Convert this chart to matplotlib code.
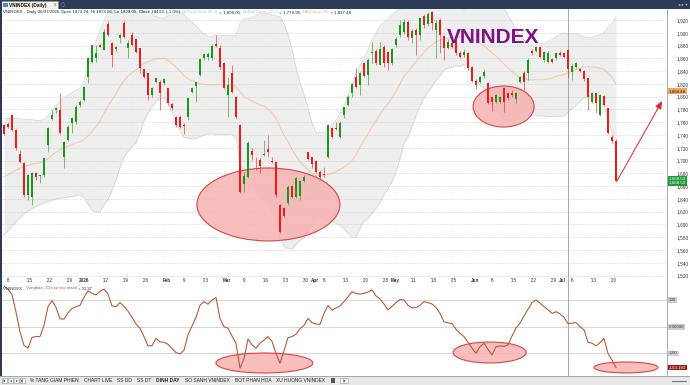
import numpy as np
import pandas as pd
import matplotlib
matplotlib.use('Agg')
import matplotlib.pyplot as plt
from matplotlib.patches import Ellipse, Rectangle

# --- data -------------------------------------------------------------
# HOSE trading days shown on the chart
holidays = ['2026-01-01', '2026-02-16', '2026-02-17', '2026-02-18', '2026-02-19',
            '2026-02-20', '2026-04-27', '2026-04-30', '2026-05-01']
days = pd.bdate_range('2025-12-08', '2026-07-22')
days = days[~days.isin(pd.to_datetime(holidays))]

opens = [1755.7, 1757, 1771.3, 1747.9, 1710.3, 1695.7, 1646.2, 1643.6, 1681.1, 1675.8,
         1677.5, 1725, 1764.6, 1779, 1779.2, 1706, 1732.2, 1758.3, 1760.9, 1787,
         1794.8, 1831.3, 1854.8, 1860, 1880.9, 1873, 1913.7, 1883.5, 1874, 1891.3,
         1915, 1875.7, 1896.5, 1889.7, 1875.7, 1842.8, 1836.5, 1802.6, 1823, 1823.5,
         1820.9, 1813.1, 1788.6, 1767.7, 1768.7, 1755.7, 1767.7, 1807.8, 1816.7, 1833.9,
         1860, 1862, 1860, 1882.4, 1875.7, 1853.2, 1802.6, 1836.5, 1800, 1755.7,
         1663.4, 1674.9, 1715.5, 1696.8, 1700.9, 1708.2, 1718.6, 1699.9, 1697.3, 1630.5,
         1625.3, 1633.1, 1660.8, 1643.6, 1645.1, 1668.6, 1712.9, 1705.1, 1699.4, 1682.2,
         1678.5, 1706.1, 1751.5, 1751.5, 1737.4, 1771.3, 1787, 1805.2, 1831.3, 1818.3,
         1852.2, 1833.9, 1867.8, 1872, 1849.6, 1878.3, 1870.4, 1852.2, 1880.9, 1896.5,
         1902, 1917, 1891.3, 1905, 1897, 1927, 1914, 1932, 1904, 1920,
         1895, 1876, 1884, 1888.7, 1868.9, 1865.2, 1867.8, 1847, 1825.1, 1823.5,
         1832.4, 1821.9, 1799, 1792.2, 1792.2, 1813.1, 1805.2, 1805.2, 1795.8, 1823.5,
         1837.6, 1837.6, 1872, 1872, 1877.2, 1857.4, 1854.8, 1858.5, 1860, 1868.9,
         1867.8, 1873.24, 1839.2, 1847, 1842.8, 1840.7, 1828.7, 1792.2, 1805.2, 1771.3,
         1801, 1781.8, 1737, 1731]
highs = [1758, 1760, 1773, 1749, 1717, 1697, 1679, 1682, 1682.7, 1678,
         1705, 1752, 1779, 1784, 1805, 1731, 1755, 1768.7, 1787, 1794.5,
         1817, 1862.6, 1883, 1880.9, 1882, 1906, 1918, 1885, 1880, 1899,
         1919, 1888.7, 1901.7, 1891, 1876, 1844, 1837, 1815, 1831.3, 1826,
         1829, 1814, 1790, 1769, 1771.3, 1758.3, 1800, 1815.7, 1823.5, 1860,
         1869, 1870, 1882, 1896.5, 1880.9, 1854, 1831.3, 1849.6, 1801, 1757,
         1682.7, 1730, 1719.2, 1706.1, 1703.5, 1732.2, 1740, 1706.1, 1699, 1632,
         1627, 1661.8, 1662, 1674.9, 1670, 1677, 1714, 1706, 1701, 1685,
         1689.5, 1757, 1753, 1760.9, 1762, 1784.4, 1802, 1822, 1844.4, 1839,
         1854.8, 1860, 1886.1, 1874, 1886.1, 1880.9, 1872, 1876, 1893.9, 1920,
         1922, 1920, 1906, 1908, 1925, 1930, 1932, 1934, 1920, 1923,
         1897, 1890, 1888, 1890, 1872, 1874, 1870, 1848, 1827, 1833,
         1843, 1823, 1800, 1804, 1801, 1815, 1806, 1810.4, 1807, 1833,
         1840, 1860, 1875, 1880, 1879, 1872, 1871, 1860, 1870, 1871,
         1869, 1873.56, 1851, 1855, 1845, 1842, 1830, 1808, 1806, 1804,
         1802, 1783, 1740, 1733]
lows = [1740, 1751, 1746, 1716, 1696, 1643, 1638, 1630.5, 1669.6, 1665.5,
        1675, 1714, 1763, 1774, 1741, 1688, 1731, 1742.6, 1758, 1784,
        1793, 1820.9, 1853, 1854.8, 1877, 1873, 1895, 1847, 1872, 1883.5,
        1892, 1860, 1879, 1868, 1836.5, 1829, 1794.8, 1800, 1820.9, 1779.2,
        1819, 1787, 1779, 1753, 1750.5, 1741.6, 1763.5, 1805.2, 1792.2, 1832,
        1858, 1858, 1858, 1878, 1844, 1812, 1768.7, 1806, 1766, 1649,
        1651.4, 1673, 1701, 1685.3, 1680.1, 1707, 1706.1, 1695.7, 1643.6, 1586.2,
        1612, 1630, 1641, 1641, 1638.3, 1667, 1701, 1688, 1681, 1671,
        1675, 1704, 1734.8, 1748, 1735, 1766, 1785, 1800, 1814, 1802.6,
        1831.3, 1818.3, 1852.2, 1850, 1849, 1847, 1841.8, 1850, 1878, 1894,
        1898, 1889, 1884, 1865, 1889, 1908, 1911, 1905, 1860, 1868,
        1857, 1874, 1876, 1865, 1860, 1862, 1842, 1823, 1812, 1821,
        1830, 1789, 1777, 1790, 1790, 1776.5, 1795, 1800, 1789.6, 1821,
        1810.5, 1826, 1866, 1870, 1861, 1855, 1853, 1852, 1858, 1863,
        1860, 1829.05, 1826, 1845, 1838, 1825, 1779, 1790, 1774, 1769,
        1785, 1741, 1728, 1666]
closes = [1741.6, 1753, 1747.9, 1719.2, 1698.3, 1646.2, 1677.5, 1680.1, 1673.8, 1677,
          1703.5, 1750.5, 1771.3, 1782, 1742.6, 1729.6, 1753.1, 1766.1, 1784.4, 1792.2,
          1815.7, 1860, 1880.9, 1867.8, 1878.3, 1901.7, 1896.5, 1865.2, 1878.3, 1896.5,
          1893.9, 1884.5, 1880.9, 1870.4, 1844.4, 1831.3, 1802.6, 1813.1, 1828.5, 1806.3,
          1827.1, 1790.6, 1781.8, 1755.7, 1753.1, 1754.1, 1797.4, 1813.1, 1823.5, 1858.5,
          1866.8, 1867.5, 1879.3, 1879.3, 1845.9, 1813.1, 1818.3, 1807.8, 1767.7, 1651.4,
          1676.4, 1728.1, 1708.7, 1695.7, 1691.5, 1709.8, 1713.4, 1698.3, 1646.2, 1588.8,
          1613.8, 1658.1, 1643.6, 1672.2, 1668.6, 1674.9, 1702.5, 1694.7, 1682.7, 1674.9,
          1677, 1755.7, 1736.4, 1749.4, 1759.4, 1783.3, 1800, 1819.8, 1815.7, 1836.5,
          1832.9, 1857.4, 1870.4, 1852.2, 1875.1, 1852.2, 1852.2, 1874.6, 1889.7, 1912,
          1917, 1894, 1903, 1897, 1923, 1912, 1929, 1915, 1915, 1897,
          1876, 1886, 1878, 1867.8, 1862.6, 1870.4, 1844.4, 1825.1, 1818.3, 1831.3,
          1839.2, 1790.6, 1792.2, 1802.6, 1799, 1792.2, 1797.4, 1802.6, 1805.2, 1831.3,
          1823.5, 1857.4, 1867.8, 1877.2, 1862.6, 1870.4, 1868.9, 1854.8, 1867.8, 1865.2,
          1861.6, 1843.5, 1848, 1853.2, 1840.7, 1827.2, 1800, 1806.3, 1789.6, 1802.6,
          1787, 1742.7, 1731, 1668.53]

# band values for the first days (no earlier closes on screen)
head_top = [1766, 1766, 1766, 1766, 1765, 1765, 1764, 1764, 1763, 1763,
            1764, 1770, 1778, 1786, 1793, 1798, 1802, 1806, 1810]
head_bot = [1584, 1590, 1597, 1604, 1611, 1617, 1621, 1625, 1628, 1631,
            1634, 1636, 1638, 1640, 1641, 1642, 1643, 1644, 1645]

# "Vungban - Chi so suc manh" oscillator
osc = [152, 140, 120, 55, -20, -70, -80, -40, -37, -37,
       5, 75, 98, 72, 30, 28, 52, 68, 75, 80,
       110, 134, 125, 119, 132, 141, 122, 78, 75, 91,
       76, 58, 35, 10, -6, -37, -72, -71, -44, -57,
       -58, -66, -82, -97, -102, -88, -30, 3, 35, 80,
       94, 84, 100, 109, 30, 0, -6, -35, -62, -156,
       -120, -46, -68, -81, -62, -50, -37, -55, -100, -137,
       -90, -41, -37, -28, -8, 5, 31, 15, 10, 9,
       50, 79, 62, 70, 78, 94, 112, 131, 124, 122,
       125, 130, 138, 115, 104, 85, 63, 76, 90, 102,
       100, 80, 71, 71, 80, 94, 90, 85, 72, 50,
       18, 14, 12, -10, -25, -37, -58, -80, -100, -75,
       -62, -85, -106, -75, -72, -74, -68, -35, -5, 13,
       40, 65, 90, 100, 88, 75, 63, 50, 56, 48,
       35, 11.37, 13, 16, 0, -12, -58, -62, -72, -60,
       -44, -100, -125, -153.183]

tick_dates = ['2025-12-08', '2025-12-15', '2025-12-22', '2025-12-29', '2026-01-02',
              '2026-01-12', '2026-01-19', '2026-01-26', '2026-02-02', '2026-02-09',
              '2026-02-23', '2026-03-02', '2026-03-09', '2026-03-16', '2026-03-23',
              '2026-03-30', '2026-04-01', '2026-04-06', '2026-04-13', '2026-04-20',
              '2026-04-28', '2026-05-04', '2026-05-11', '2026-05-18', '2026-05-25',
              '2026-06-01', '2026-06-08', '2026-06-15', '2026-06-22', '2026-06-29',
              '2026-07-01', '2026-07-06', '2026-07-13', '2026-07-20']
tick_labels = ["'8", "'15", "'22", "'29", "2026", "'12", "'19", "'26", "Feb", "'9",
               "'23", "Mar", "'9", "'16", "'23", "'30", "Apr", "'6", "'13", "'20",
               "'28", "May", "'11", "'18", "'25", "Jun", "'8", "'15", "'22", "'29",
               "Jul", "'6", "'13", "'20"]
price_ticks = list(range(1520, 1921, 20))
cursor_day = '2026-07-06'

tabs = ['% TANG GIAM PHIEN', 'CHART LIVE', 'SS DD', 'SS DT', 'DINH DAY',
        'SO SANH VNINDEX', 'BOT PHAN HOA', 'XU HUONG VNINDEX']

# --- figure -----------------------------------------------------------
W, H = 690, 385
FONT = 'Liberation Sans'
NAVY = '#2b3b58'
UP, DOWN = '#169a16', '#f01a1a'

def box(x0, y0, x1, y1):
    return [x0 / W, 1 - y1 / H, (x1 - x0) / W, (y1 - y0) / H]

fig = plt.figure(figsize=(W / 100, H / 100), dpi=100)
fig.patch.set_facecolor('white')
r = fig.canvas.get_renderer()

idx = np.arange(len(closes))
o, h, l, c = (np.array(v, dtype=float) for v in (opens, highs, lows, closes))
colors = np.where(c >= o, UP, DOWN)
cur = days.get_loc(pd.Timestamp(cursor_day))
xlim = (-0.5, 165.75)

# bollinger(20, 2) from the closes
s = pd.Series(c)
ma = s.rolling(20).mean().to_numpy()
sd = s.rolling(20).std(ddof=0).to_numpy()
bb_top, bb_bot = ma + 2 * sd, ma - 2 * sd
n0 = len(head_top)
bb_top[:n0] = head_top
bb_bot[:n0] = head_bot
ma[:n0] = (np.array(head_top) + np.array(head_bot)) / 2

# price panel
ax = fig.add_axes(box(2, 8.5, 667, 277))
ax.set_xlim(*xlim)
ax.set_ylim(1517.8, 1938)
ax.fill_between(idx, bb_bot, bb_top, color='#eeeeee', lw=0, zorder=1)
ax.plot(idx, bb_top, color='#d2d2d2', lw=0.5, zorder=1.2)
ax.plot(idx, bb_bot, color='#d2d2d2', lw=0.5, zorder=1.2)
ax.plot(idx, ma, color='#f1c494', lw=0.6, zorder=1.3)
for v in price_ticks:
    ax.axhline(v, color='#c2c2c2', lw=0.5, ls=(0, (1, 1.6)), zorder=1.5)
ax.axvline(cur, color='#a8a8a8', lw=0.7, zorder=1.6)

for cx, cy, ew, eh in [(66.1, 1631.3, 35.75, 114.2), (124.9, 1784.6, 15.25, 64.2)]:
    ax.add_patch(Ellipse((cx, cy), ew, eh, fc='#f7b2b2', ec='#d42a2a', lw=0.8,
                         alpha=0.85, zorder=3))

ax.vlines(idx, l, h, colors=colors, lw=0.55, alpha=0.75, zorder=4)
ax.bar(idx, np.maximum(np.abs(c - o), 1.2), bottom=np.minimum(o, c), width=0.62,
       color=colors, lw=0, zorder=5)

ax.text(110.8, 1893, 'VNINDEX', family=FONT, fontsize=15, fontweight='bold',
        color='#7d1185', va='center', ha='left', zorder=6)
ax.annotate('', xy=(164.5, 1793), xytext=(idx[-1] + 0.3, c[-1]),
            arrowprops=dict(arrowstyle='-|>,head_length=0.45,head_width=0.2',
                            color='#e02626', lw=0.7, shrinkA=0, shrinkB=0), zorder=6)

ax.yaxis.tick_right()
ax.set_yticks(price_ticks)
ax.set_yticklabels([f'{v:,}' for v in price_ticks], family=FONT)
ax.tick_params(axis='y', length=0, pad=7, labelsize=3.4, labelcolor='#333333')
ax.set_xticks([])
for side in ('top', 'left', 'bottom'):
    ax.spines[side].set_visible(False)
ax.spines['right'].set_color('#9c9c9c')
ax.spines['right'].set_linewidth(0.6)

ytr = ax.get_yaxis_transform()
ax.text(1.003, 1808.48, '1,808.48', transform=ytr, family=FONT, fontsize=3.2,
        color='#222222', ha='left', va='center',
        bbox=dict(boxstyle='square,pad=0.2', fc='#f4a75c', ec='none'))
for dy in (2.9, -3.6):
    ax.text(1.003, c[-1] + dy, f'{c[-1]:,.2f}', transform=ytr, family=FONT,
            fontsize=3.2, color='white', ha='left', va='center',
            bbox=dict(boxstyle='square,pad=0.2', fc='#1f9b3c', ec='none'))

# date strip
axb = fig.add_axes(box(2, 277, 667, 284.5))
axb.set_xlim(*xlim)
axb.set_ylim(0, 1)
axb.set_xticks([])
axb.set_yticks([])
for side in ('top', 'left'):
    axb.spines[side].set_visible(False)
axb.spines['bottom'].set_color('#b4b4b4')
axb.spines['bottom'].set_linewidth(0.6)
axb.spines['right'].set_color('#9c9c9c')
axb.spines['right'].set_linewidth(0.6)
axb.axvline(cur, color='#a8a8a8', lw=0.7)
for d, lab in zip(tick_dates, tick_labels):
    x = days.get_loc(pd.Timestamp(d))
    bold = not lab.startswith("'")
    axb.text(x + 0.8, 0.5, lab, family=FONT, fontsize=3.3, color='#333333',
             fontweight='bold' if bold else 'normal', ha='left', va='center')

# oscillator panel
axl = fig.add_axes(box(2, 284.5, 667, 375.5))
axl.set_xlim(*xlim)
axl.set_ylim(-182.8, 158)
for v in (100, 0, -100):
    axl.axhline(v, color='#d6d6d6', lw=0.7, zorder=1)
axl.axvline(cur, color='#a8a8a8', lw=0.7, zorder=1)
for cx, cy, ew, eh in [(65.1, -136, 24.25, 75), (121.4, -96.6, 18.25, 78.7),
                       (155.5, -152.7, 16, 41.2)]:
    axl.add_patch(Ellipse((cx, cy), ew, eh, fc='#f7b2b2', ec='#d42a2a', lw=0.8,
                          alpha=0.85, zorder=2))
axl.plot(idx, osc, color='#b4532b', lw=0.75, zorder=3)
axl.set_xticks([])
axl.set_yticks([])
for side in ('top', 'left', 'bottom'):
    axl.spines[side].set_visible(False)
axl.spines['right'].set_color('#9c9c9c')
axl.spines['right'].set_linewidth(0.6)
ltr = axl.get_yaxis_transform()
for v, lab in [(100, '100'), (0, '0.00000'), (-100, '-100')]:
    axl.text(1.003, v, lab, transform=ltr, family=FONT, fontsize=3.2, color='#333333',
             ha='left', va='center',
             bbox=dict(boxstyle='square,pad=0.2', fc='#cfcfcf', ec='none'))
axl.text(1.003, osc[-1], f'{osc[-1]:.3f}', transform=ltr, family=FONT,
         fontsize=3.2, color='white', ha='left', va='center',
         bbox=dict(boxstyle='square,pad=0.2', fc='#9c1a10', ec='none'))

# title bar
axt = fig.add_axes(box(0, 0, 690, 8.5))
axt.set_xlim(0, W)
axt.set_ylim(8.5, 0)
axt.axis('off')
axt.add_patch(Rectangle((0, 0), W, 8.5, fc=NAVY, ec='none'))
axt.add_patch(Rectangle((1, 1.3), 57, 7.2, fc='#f6f3e4', ec='#8a94a6', lw=0.4))
axt.add_patch(Rectangle((2.5, 2.8), 5, 4.2, fc='#3b8fd0', ec='none'))
axt.text(9, 5, 'VNINDEX (Daily)', family=FONT, fontsize=3.4, fontweight='bold',
         color='#111111', va='center', ha='left')
axt.text(53.5, 5, 'x', family=FONT, fontsize=3.3, fontweight='bold',
         color='#e0762a', va='center', ha='left')
axt.text(61, 4.8, '\u25cb', fontsize=3.3, color='#9aa6ba', va='center', ha='left')
axt.text(688, 4.5, '\u25c2 \u25b8 \u25be', fontsize=3.2, color='#c6cedb',
         va='center', ha='right')

# left window frame
fig.add_artist(Rectangle((0, 1 - 375.5 / H), 1.5 / W, 375.5 / H,
                         transform=fig.transFigure, fc=NAVY, ec='none'))

def chain(x, y, parts, size):
    for txt, col in parts:
        t = fig.text(x / W, 1 - y / H, txt, family=FONT, fontsize=size, color=col,
                     ha='left', va='center')
        x = t.get_window_extent(renderer=r).x1

chain(3, 12.3, [('VNINDEX - Daily 06/07/2026 Open 1873.24, Hi 1873.56, Lo 1829.05, '
                 'Close 1843.5 (-1.0%) ', '#222222'),
                ('BBTop(Close,20,2)', '#c4c4c4'), (' = 1,896.01, ', '#222222'),
                ('BBBot(Close,20,2)', '#c4c4c4'), (' = 1,779.95, ', '#222222'),
                ('MA(Close,20)', '#efb57c'), (' = 1,837.48', '#222222')], 3.15)
chain(3, 288.5, [('VNINDEX - ', '#333333'), ('Vungban - Chi so suc manh', '#b4532b'),
                 (' = 11.37', '#222222')], 3.1)

# sheet tabs
axs = fig.add_axes(box(0, 375.5, 690, 385))
axs.set_xlim(0, W)
axs.set_ylim(9.5, 0)
axs.axis('off')
axs.add_patch(Rectangle((0, 0), W, 9.5, fc='#e9e9e9', ec='none'))
axs.plot([0, W], [0.2, 0.2], color='#9a9a9a', lw=0.6)
for k, g in enumerate(['|\u25c2', '\u25c2', '\u25b8', '\u25b8|']):
    axs.add_patch(Rectangle((2 + 6 * k, 2), 5, 5, fc='#f4f4f4', ec='#9a9a9a', lw=0.4))
    axs.text(4.5 + 6 * k, 4.6, g, fontsize=2.6, color='#333333', ha='center', va='center')
x = 28
for name in tabs:
    active = name == 'DINH DAY'
    t = axs.text(x + 2, 4.9, name, family=FONT, fontsize=3.55, color='#222222',
                 fontweight='bold' if active else 'normal', ha='left', va='center')
    wpx = t.get_window_extent(renderer=r).width
    axs.add_patch(Rectangle((x, 1), wpx + 4, 7.8, fc='white' if active else '#f1f1f1',
                            ec='#9a9a9a', lw=0.4, zorder=0.5))
    x += wpx + 5
axs.add_patch(Rectangle((x + 3, 2.5), 4, 4.5, fc='#555555', ec='none'))
axs.add_patch(Rectangle((340, 2), 8, 5, fc='#f4f4f4', ec='#9a9a9a', lw=0.4))
axs.text(344, 4.6, '|\u25c2', fontsize=2.6, color='#333333', ha='center', va='center')
axs.plot([672, 686], [5, 5], color='#777777', lw=0.8)

fig.savefig('out.png', dpi=100, facecolor='white')
